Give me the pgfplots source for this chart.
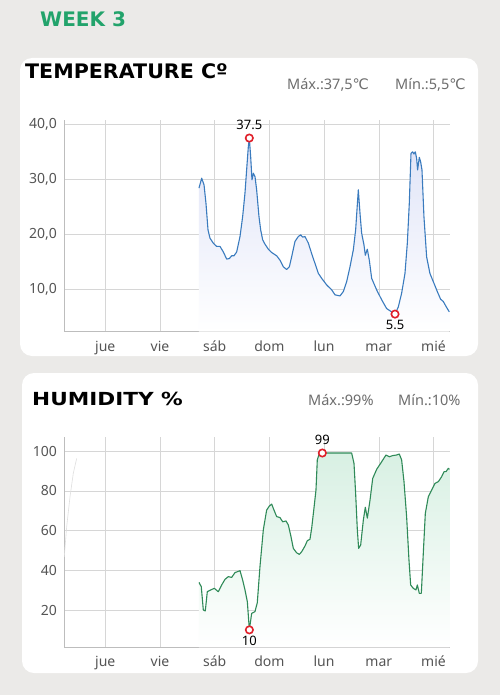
\documentclass[border=0pt]{standalone}
\usepackage{pgfplots}
\usepackage{pgfplotstable}
\pgfplotsset{compat=1.18}
\usepackage{fontspec}
\setmainfont{Noto Sans}
\newfontfamily\titlefont{DejaVu Sans}
\newfontfamily\dejavu{DejaVu Sans}
\definecolor{bg}{HTML}{EBEAE8}
\definecolor{tline}{HTML}{3A7BBE}
\definecolor{hline}{HTML}{2F8A58}
\definecolor{tfill}{HTML}{DFE3F7}
\definecolor{hfill}{HTML}{D8F0E3}
\definecolor{mred}{HTML}{E0202A}
\definecolor{wk}{HTML}{22A36B}
\definecolor{tickc}{HTML}{555555}
\definecolor{stat}{HTML}{6E6E6E}
\definecolor{gridc}{HTML}{D6D6D6}
\definecolor{axc}{HTML}{BDBDBD}

\pgfplotstableread{
x y
2.713 28.4
2.762 30.2
2.805 29.0
2.841 25.6
2.878 20.8
2.914 19.3
2.975 18.4
3.036 17.8
3.097 17.8
3.158 16.8
3.219 15.5
3.268 15.6
3.310 16.1
3.353 16.1
3.402 16.8
3.463 19.6
3.511 23.2
3.554 27.5
3.584 31.7
3.615 35.9
3.633 37.5
3.658 34.1
3.682 29.9
3.707 31.1
3.737 30.5
3.767 28.1
3.810 23.2
3.841 20.8
3.877 19.0
3.920 18.2
3.981 17.3
4.042 16.7
4.133 16.1
4.194 15.3
4.255 14.1
4.316 13.6
4.365 14.1
4.407 15.9
4.468 18.7
4.529 19.6
4.572 19.9
4.609 19.5
4.651 19.6
4.712 18.4
4.773 16.5
4.834 14.7
4.895 12.9
4.956 12.0
5.048 10.8
5.139 9.9
5.200 9.0
5.291 8.8
5.352 9.6
5.413 11.4
5.474 14.1
5.535 17.2
5.577 20.8
5.626 28.1
5.657 23.8
5.687 20.2
5.729 18.1
5.754 16.2
5.790 17.3
5.827 15.3
5.870 12.0
5.961 9.9
6.053 8.1
6.144 6.5
6.236 5.9
6.297 5.5
6.357 6.8
6.418 9.3
6.479 12.9
6.522 18.4
6.558 25.6
6.589 34.7
6.619 35.0
6.643 34.6
6.668 35.0
6.692 33.8
6.710 31.7
6.741 34.0
6.765 33.2
6.790 31.7
6.826 23.2
6.875 15.9
6.935 12.9
7.009 11.1
7.070 9.6
7.131 8.2
7.179 7.8
7.241 6.7
7.290 5.9
}\temp

\pgfplotstableread{
x y
2.713 33.9
2.755 31.7
2.792 20.0
2.828 19.5
2.865 29.2
2.927 30.1
2.993 30.9
3.066 29.2
3.128 32.6
3.188 35.4
3.249 36.8
3.310 36.4
3.371 38.8
3.463 39.8
3.511 35.1
3.554 30.1
3.597 24.2
3.634 10.0
3.676 18.3
3.737 19.2
3.779 23.7
3.828 41.8
3.889 60.3
3.950 70.3
3.999 72.3
4.042 73.3
4.084 70.3
4.133 67.0
4.194 66.5
4.243 64.4
4.304 64.8
4.346 62.8
4.389 57.7
4.438 51.0
4.498 48.8
4.547 48.0
4.590 49.3
4.651 52.2
4.694 54.9
4.742 55.6
4.773 61.1
4.815 71.2
4.852 80.4
4.876 95.5
4.913 98.8
4.968 99.0
5.048 99.0
5.291 99.0
5.504 99.0
5.547 93.8
5.577 78.7
5.608 60.3
5.632 51.0
5.669 52.7
5.718 65.3
5.754 71.7
5.791 66.2
5.840 75.3
5.889 86.2
5.962 90.8
6.053 94.6
6.132 98.0
6.193 97.1
6.254 97.7
6.327 98.0
6.375 98.5
6.418 95.5
6.461 84.6
6.509 67.0
6.552 45.2
6.583 32.6
6.631 30.9
6.680 30.1
6.705 32.6
6.741 28.4
6.778 28.4
6.814 48.5
6.851 68.6
6.906 77.0
6.967 80.4
7.028 83.7
7.089 84.6
7.150 87.1
7.193 89.6
7.229 89.6
7.272 91.3
7.295 90.8
}\hum

\pgfplotstableread{
x y
0.250 46.8
0.294 61.9
0.355 77.0
0.415 88.8
0.477 96.3
}\ghost

\pgfplotsset{
  dayaxis/.style={
    scale only axis,
    width=385.6pt,
    xmin=0.245, xmax=7.295,
    axis lines*=left,
    axis line style={draw=axc, line width=0.6pt},
    xtick={1,2,3,4,5,6,7},
    xticklabels={jue,vie,sáb,dom,lun,mar,mié},
    grid=major,
    grid style={draw=gridc, line width=0.5pt},
    major tick length=0pt,
    /pgf/number format/assume math mode=true,
    tick label style={font=\fontsize{14}{14}\selectfont, text=tickc},
    yticklabel style={anchor=east, inner sep=0pt, xshift=-7pt},
    xticklabel style={anchor=base, inner sep=0pt, yshift=-19.5pt},
    clip mode=individual,
  }
}

\begin{document}
\begin{tikzpicture}
\fill[bg] (0pt,0pt) rectangle (500pt,-695pt);
\fill[white, rounded corners=12pt] (20pt,-58pt) rectangle (478pt,-356pt);
\fill[white, rounded corners=12pt] (22pt,-373pt) rectangle (478pt,-673pt);

\node[anchor=base west, inner sep=0pt, text=wk, font=\titlefont\bfseries\fontsize{20}{20}\selectfont] at (40pt,-26.7pt) {WEEK 3};
\node[anchor=base west, inner sep=0pt, text=black, font=\titlefont\bfseries\fontsize{20}{20}\selectfont] at (25pt,-78.5pt) {\scalebox{1.03}[1]{TEMPERATURE Cº}};
\node[anchor=base west, inner sep=0pt, text=stat, font=\fontsize{14.5}{14.5}\selectfont] at (287pt,-89.3pt) {Máx.:37,5{\dejavu ℃}};
\node[anchor=base west, inner sep=0pt, text=stat, font=\fontsize{14.5}{14.5}\selectfont] at (395pt,-89.3pt) {Mín.:5,5{\dejavu ℃}};

\node[anchor=base west, inner sep=0pt, text=black, font=\titlefont\bfseries\fontsize{18}{18}\selectfont] at (32pt,-405.5pt) {\scalebox{1.2}[1]{HUMIDITY \%}};
\node[anchor=base west, inner sep=0pt, text=stat, font=\fontsize{14.5}{14.5}\selectfont] at (308pt,-405pt) {Máx.:99\%};
\node[anchor=base west, inner sep=0pt, text=stat, font=\fontsize{14.5}{14.5}\selectfont] at (398pt,-405pt) {Mín.:10\%};

% Temperature
\begin{axis}[dayaxis,
  at={(64pt,-331.7pt)}, anchor=south west,
  height=211.7pt,
  ymin=2.3, ymax=40.78,
  ytick={10,20,30,40},
  yticklabel style={/pgf/number format/.cd, fixed, fixed zerofill, precision=1, use comma},
]
\addplot[draw=none, top color=tfill, bottom color=white, forget plot] table[x=x,y=y] {\temp} \closedcycle;
\addplot[draw=tline, line width=1.1pt, line join=round, mark=none] table[x=x,y=y] {\temp};
\addplot[only marks, mark=*, mark size=3.7pt, mark options={draw=mred, fill=white, line width=1.6pt}] coordinates {(3.633,37.5) (6.297,5.5)};
\node[anchor=south, inner sep=0pt, font=\fontsize{13}{13}\selectfont] at (axis cs:3.633,37.5) [yshift=8pt] {37.5};
\node[anchor=north, inner sep=0pt, font=\fontsize{13}{13}\selectfont] at (axis cs:6.297,5.5) [yshift=-6pt] {5.5};
\end{axis}

% Humidity
\begin{axis}[dayaxis,
  at={(64pt,-647.3pt)}, anchor=south west,
  height=210.6pt,
  ymin=1.23, ymax=107.2,
  ytick={20,40,60,80,100},
]
\addplot[draw=gray!25, line width=0.6pt, forget plot] table[x=x,y=y] {\ghost};
\addplot[draw=none, top color=hfill, bottom color=white, forget plot] table[x=x,y=y] {\hum} \closedcycle;
\addplot[draw=hline, line width=1.1pt, line join=round, mark=none] table[x=x,y=y] {\hum};
\addplot[only marks, mark=*, mark size=3.7pt, mark options={draw=mred, fill=white, line width=1.6pt}] coordinates {(4.968,99) (3.634,10)};
\node[anchor=south, inner sep=0pt, font=\fontsize{13}{13}\selectfont] at (axis cs:4.968,99) [yshift=8pt] {99};
\node[anchor=north, inner sep=0pt, font=\fontsize{13}{13}\selectfont] at (axis cs:3.634,10) [yshift=-6pt] {10};
\end{axis}
\end{tikzpicture}
\end{document}
